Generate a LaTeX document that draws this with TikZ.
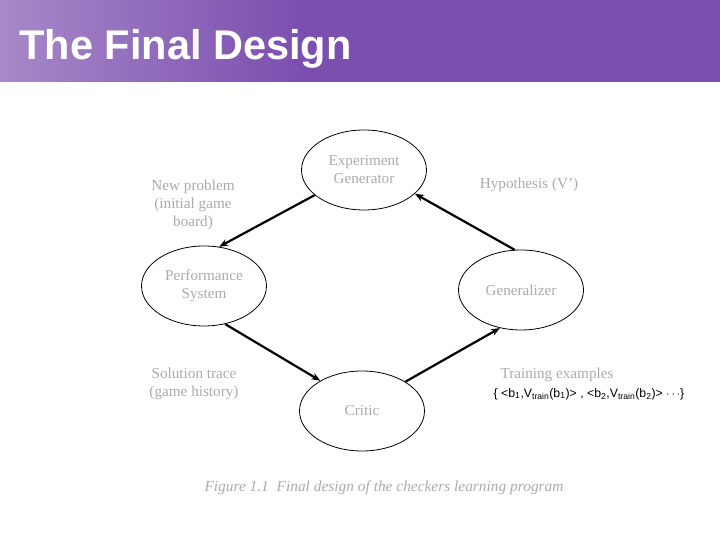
\documentclass[tikz,border=0pt]{standalone}
\usepackage{fontspec}
\setmainfont{Liberation Serif}
\setsansfont{Liberation Sans}
\usetikzlibrary{shapes.geometric,arrows.meta}
\definecolor{barpurple}{HTML}{7B4FB0}
\definecolor{barlight}{HTML}{A888C8}
\definecolor{labelgray}{HTML}{ABABAB}
\tikzset{
  unit/.style={draw,ellipse,line width=.8pt,minimum width=125pt,minimum height=80pt,
    align=center,text=labelgray,font=\fontsize{15.2}{18}\selectfont},
  note/.style={align=center,text=labelgray,font=\fontsize{15.2}{18}\selectfont},
  flow/.style={line width=2.2pt,-{Stealth[length=9pt,width=7pt]}}
}
\begin{document}
\begin{tikzpicture}[x=1pt,y=1pt]
  \useasboundingbox (0,0) rectangle (720,540);
  % title bar
  \shade[left color=barlight,right color=barpurple] (0,458) rectangle (300,540);
  \fill[barpurple] (299.5,458) rectangle (720,540);
  \node[anchor=base west,text=white,font=\sffamily\bfseries\fontsize{41.5}{44}\selectfont]
    (title) at (16,480) {The Final Design};

  % the four modules
  \node[unit] (eg) at (364,370) {Experiment\\Generator};
  \node[unit] (ps) at (204,254) {Performance\\System};
  \node[unit] (gen) at (521,250) {Generalizer};
  \node[unit] (cr) at (362,129) {Critic};

  % what flows between them
  \node[note] (newp) at (193,335) {New problem\\(initial game\\board)};
  \node[note] (hyp) at (529,355) {Hypothesis (V')};
  \node[note] (sol) at (194,156) {Solution trace\\(game history)};
  \node[note] (train) at (557,165) {Training examples};
  \node[font=\sffamily\fontsize{12.3}{14}\selectfont] (pairs) at (589,146)
    {\{ <b\textsubscript{1},V\textsubscript{train}(b\textsubscript{1})> , <b\textsubscript{2},V\textsubscript{train}(b\textsubscript{2})> $\cdots$\}};

  \draw[flow] (eg.207) -- (ps.69);
  \draw[flow] (ps.299) -- (cr.144);
  \draw[flow] (cr.34) -- (gen.241);
  \draw[flow] (gen.99) -- (eg.335);

  \node[text=labelgray,font=\itshape\fontsize{15.4}{17}\selectfont] (caption) at (384,52)
    {Figure 1.1~~Final design of the checkers learning program};
\end{tikzpicture}
\end{document}
